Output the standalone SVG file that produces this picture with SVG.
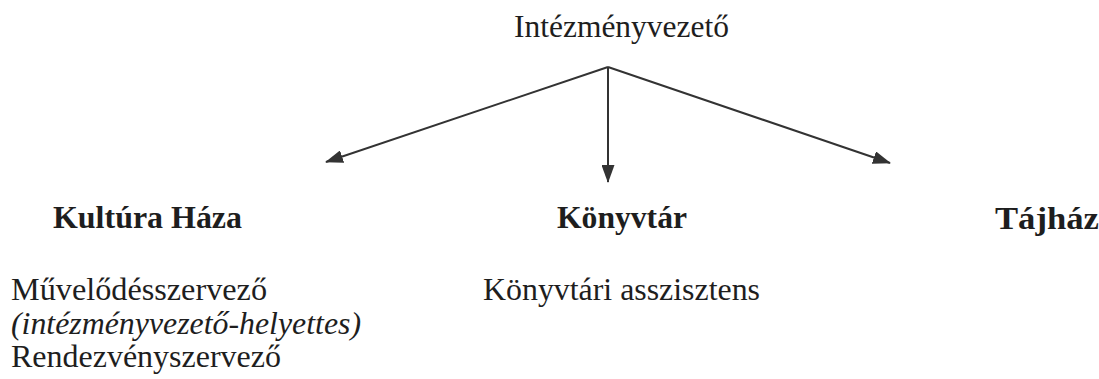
<svg xmlns="http://www.w3.org/2000/svg" width="1099" height="379" viewBox="0 0 1099 379">
  <style>
    text { font-family: "Liberation Serif", "Times New Roman", serif; fill: #1e1e1e; }
    .head { font-size: 31px; }
    .unit { font-size: 32px; font-weight: bold; }
    .staff { font-size: 32px; }
    .note { font-size: 32px; font-style: italic; }
    .link { stroke: #333; stroke-width: 2; fill: none; marker-end: url(#arrow); }
  </style>
  <defs>
    <marker id="arrow" viewBox="0 0 18 13" refX="17" refY="6.5" markerWidth="18" markerHeight="13" markerUnits="userSpaceOnUse" orient="auto">
      <path d="M0,0 L18,6.5 L0,13 Z" fill="#333"/>
    </marker>
  </defs>
  <rect width="1099" height="379" fill="#fff"/>

  <!-- connectors from the head to the three units -->
  <g id="connectors">
    <line class="link" x1="608" y1="67" x2="326" y2="162"/>
    <line class="link" x1="608" y1="67" x2="608" y2="182"/>
    <line class="link" x1="608" y1="67" x2="890" y2="163"/>
  </g>

  <g id="node-head">
    <text class="head" x="514" y="37" textLength="215" lengthAdjust="spacingAndGlyphs">Intézményvezető</text>
  </g>

  <g id="node-kultura">
    <text class="unit" x="53" y="228" textLength="189" lengthAdjust="spacingAndGlyphs">Kultúra Háza</text>
    <text class="staff" x="11" y="300" textLength="256" lengthAdjust="spacingAndGlyphs">Művelődésszervező</text>
    <text class="note" x="11" y="334" textLength="350" lengthAdjust="spacingAndGlyphs">(intézményvezető-helyettes)</text>
    <text class="staff" x="11" y="367" textLength="270" lengthAdjust="spacingAndGlyphs">Rendezvényszervező</text>
  </g>

  <g id="node-konyvtar">
    <text class="unit" x="557" y="228" textLength="130" lengthAdjust="spacingAndGlyphs">Könyvtár</text>
    <text class="staff" x="483" y="300" textLength="277" lengthAdjust="spacingAndGlyphs">Könyvtári asszisztens</text>
  </g>

  <g id="node-tajhaz">
    <text class="unit" x="995" y="229" textLength="104" lengthAdjust="spacingAndGlyphs">Tájház</text>
  </g>
</svg>
